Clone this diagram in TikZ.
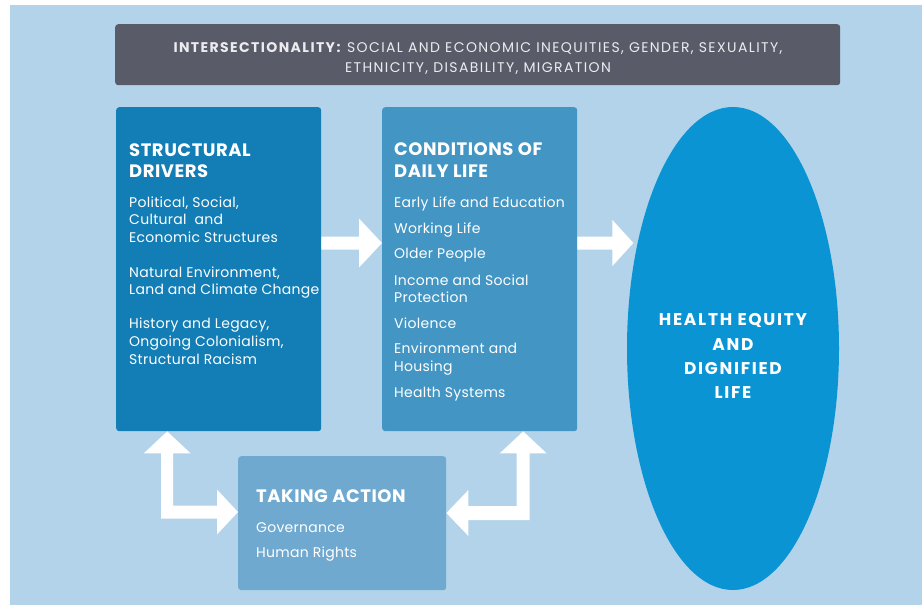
\documentclass[tikz,border=0pt]{standalone}
\usepackage{fontspec}
\setmainfont{Poppins}
\usetikzlibrary{calc,shapes.geometric}
\definecolor{bgblue}{HTML}{B3D3EA}
\definecolor{hdrgray}{HTML}{595C68}
\definecolor{sdblue}{HTML}{137DB6}
\definecolor{cdblue}{HTML}{4395C3}
\definecolor{tablue}{HTML}{70A9D0}
\definecolor{heblue}{HTML}{0A94D4}
\definecolor{hdrtext}{HTML}{ECECF0}
\begin{document}
\begin{tikzpicture}[x=1pt,y=-1pt,
  box/.style={rounded corners=3pt, inner sep=0pt, anchor=north west, draw=none},
  ttl/.style={anchor=base west, inner sep=0pt, text=white, font=\fontsize{18}{20}\selectfont\bfseries\addfontfeature{LetterSpace=3}},
  itm/.style={anchor=base west, inner sep=0pt, text=white, font=\fontsize{14}{16}\selectfont\addfontfeature{LetterSpace=2}},
  het/.style={anchor=base, inner sep=0pt, text=white, font=\fontsize{17}{20}\selectfont\bfseries\addfontfeature{LetterSpace=10}},
  hdt/.style={anchor=base, inner sep=0pt, text=hdrtext, font=\fontsize{14}{16}\selectfont\addfontfeature{LetterSpace=10}},
  fatarrow/.style={fill=white, draw=none}]
\useasboundingbox (0,0) rectangle (922,605);
\fill[white] (0,0) rectangle (922,605);
\fill[bgblue] (10,5) rectangle (922,605);

% header bar
\node[box, fill=hdrgray, minimum width=725pt, minimum height=61pt] (hdr) at (115,24) {};
\node[hdt] (h1) at (478,52) {\textbf{INTERSECTIONALITY:} SOCIAL AND ECONOMIC INEQUITIES, GENDER, SEXUALITY,};
\node[hdt] (h2) at (478,72) {ETHNICITY, DISABILITY, MIGRATION};

% boxes
\node[box, fill=sdblue, minimum width=205pt, minimum height=324pt] (sd) at (116,107) {};
\node[box, fill=cdblue, minimum width=195pt, minimum height=324pt] (cd) at (382,107) {};
\node[box, fill=tablue, minimum width=208pt, minimum height=134pt] (ta) at (238,456) {};
\node[ellipse, fill=heblue, inner sep=0pt, minimum width=212pt, minimum height=483pt] (he) at (733,348.5) {};

% structural drivers text
\node[ttl] (s0) at (129,156) {STRUCTURAL};
\node[ttl] (s1) at (129,177) {DRIVERS};
\node[itm] (s2) at (129,207) {Political, Social,};
\node[itm] (s3) at (129,224) {Cultural\ \ and};
\node[itm] (s4) at (129,242) {Economic Structures};
\node[itm] (s5) at (129,277) {Natural Environment,};
\node[itm] (s6) at (129,294) {Land and Climate Change};
\node[itm] (s7) at (129,328) {History and Legacy,};
\node[itm] (s8) at (129,346) {Ongoing Colonialism,};
\node[itm] (s9) at (129,364) {Structural Racism};

% conditions of daily life text
\node[ttl] (c0) at (394,155) {CONDITIONS OF};
\node[ttl] (c1) at (394,177) {DAILY LIFE};
\node[itm] (c2) at (394,207) {Early Life and Education};
\node[itm] (c3) at (394,233) {Working Life};
\node[itm] (c4) at (394,258) {Older People};
\node[itm] (c5) at (394,285) {Income and Social};
\node[itm] (c6) at (394,302) {Protection};
\node[itm] (c7) at (394,328) {Violence};
\node[itm] (c8) at (394,353) {Environment and};
\node[itm] (c9) at (394,371) {Housing};
\node[itm] (c10) at (394,397) {Health Systems};

% taking action text
\node[ttl] (t0) at (256,502) {TAKING ACTION};
\node[itm] (t1) at (256,532) {Governance};
\node[itm] (t2) at (256,557) {Human Rights};

% ellipse text
\node[het] (e0) at (733,325) {HEALTH EQUITY};
\node[het] (e1) at (733,350) {AND};
\node[het] (e2) at (733,374) {DIGNIFIED};
\node[het] (e3) at (733,398) {LIFE};

% arrow 1: structural -> conditions
\coordinate (a1s) at (sd.east |- 0,243);
\coordinate (a1e) at (cd.west |- 0,243);
\fill[fatarrow] ($(a1s)+(0,-6.5)$) -- ($(a1e)+(-23,-6.5)$) -- ($(a1e)+(-23,-24.5)$) -- (a1e)
  -- ($(a1e)+(-23,24.5)$) -- ($(a1e)+(-23,6.5)$) -- ($(a1s)+(0,6.5)$) -- cycle;

% arrow 2: conditions -> health equity
\coordinate (a2s) at (cd.east |- 0,243);
\coordinate (a2e) at ($(a2s)+(56,0)$);
\fill[fatarrow] ($(a2s)+(0,-6.5)$) -- ($(a2e)+(-21,-6.5)$) -- ($(a2e)+(-21,-23)$) -- (a2e)
  -- ($(a2e)+(-21,23)$) -- ($(a2e)+(-21,6.5)$) -- ($(a2s)+(0,6.5)$) -- cycle;

% bent arrow left: structural <-> taking action
\coordinate (b1) at ($(sd.south)+(-51.5,0)$);
\coordinate (b2) at (ta.west |- 0,512);
\fill[fatarrow] (b1) -- ($(b1)+(23.5,22)$) -- ($(b1)+(6,22)$) -- ($(b1 |- b2)+(6,-6.5)$)
  -- ($(b2)+(-21,-6.5)$) -- ($(b2)+(-21,-22.5)$) -- (b2) -- ($(b2)+(-21,22.5)$)
  -- ($(b2)+(-21,6.5)$) -- ($(b1 |- b2)+(-6,6.5)$) -- ($(b1)+(-6,22)$) -- ($(b1)+(-23.5,22)$) -- cycle;

% bent arrow right: conditions <-> taking action
\coordinate (r1) at ($(cd.south)+(43.5,0)$);
\coordinate (r2) at (ta.east |- 0,513);
\fill[fatarrow] (r1) -- ($(r1)+(23.5,22)$) -- ($(r1)+(6.5,22)$) -- ($(r1 |- r2)+(6.5,7)$)
  -- ($(r2)+(22,7)$) -- ($(r2)+(22,23)$) -- (r2) -- ($(r2)+(22,-23)$)
  -- ($(r2)+(22,-7)$) -- ($(r1 |- r2)+(-6.5,-7)$) -- ($(r1)+(-6.5,22)$) -- ($(r1)+(-23.5,22)$) -- cycle;
\end{tikzpicture}
\end{document}
